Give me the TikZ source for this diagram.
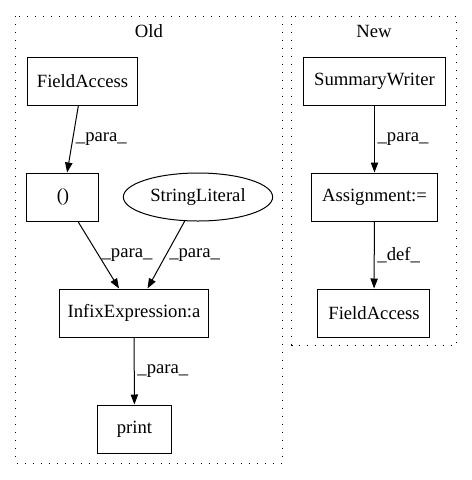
\documentclass[tikz,border=0pt]{standalone}
\usepackage{fontspec}
\setmainfont{Liberation Serif}
\usepackage{tikz}
\usetikzlibrary{shapes.geometric, arrows.meta, positioning}
\tikzstyle{box}     = [rectangle, draw=black, line width=0.75pt, minimum height=36pt,
                       inner sep=0pt, text centered, font=\fontsize{14}{16}\selectfont]
\tikzstyle{oval}    = [ellipse, draw=black, line width=0.75pt, minimum height=36pt,
                       minimum width=112pt, inner sep=0pt, font=\fontsize{14}{16}\selectfont]
\tikzstyle{cluster} = [draw=black, line width=0.75pt, dash pattern=on 1.1pt off 4.9pt]
\tikzstyle{lbl}     = [font=\fontsize{14}{16}\selectfont, inner sep=0pt]
\tikzstyle{elbl}    = [font=\fontsize{14}{16}\selectfont, right, inner sep=2pt]
\tikzstyle{arrow}   = [line width=0.75pt, -{Triangle[length=7.5pt, width=5.5pt]}]

\begin{document}
\begin{tikzpicture}[x=0.75pt, y=-0.75pt]
    \useasboundingbox (0,0) rectangle (472,480);

    % ── Clusters ────────────────────────────────────────────────────────────
    \draw [cluster] (16,16) rectangle (283,463);
    \draw [cluster] (292,16) rectangle (457,345);
    \node (old) [lbl] at (149,31) {Old};
    \node (new) [lbl] at (374,31) {New};

    % ── Old ─────────────────────────────────────────────────────────────────
    \node (fa)     [box, minimum width=83pt]  at (82.5,81)  {FieldAccess};
    \node (paren)  [box, minimum width=54pt]  at (63,197)   {()};
    \node (strlit) [oval]                     at (198,197)  {StringLiteral};
    \node (infix)  [box, minimum width=112pt] at (134,313)  {InfixExpression:a};
    \node (print)  [box, minimum width=55pt]  at (134.5,429) {print};

    % ── New ─────────────────────────────────────────────────────────────────
    \node (sw)     [box, minimum width=107pt] at (374.5,81)  {SummaryWriter};
    \node (assign) [box, minimum width=94pt]  at (374.5,197) {Assignment:=};
    \node (fanew)  [box, minimum width=84pt]  at (374,313)   {FieldAccess};

    % ── Arrows old ──────────────────────────────────────────────────────────
    \draw [arrow] (fa)     -- node[elbl]{\_para\_} (paren);
    \draw [arrow] (paren)  -- node[elbl]{\_para\_} (infix);
    \draw [arrow] (strlit) -- node[elbl]{\_para\_} (infix);
    \draw [arrow] (infix)  -- node[elbl]{\_para\_} (print);

    % ── Arrows new ──────────────────────────────────────────────────────────
    \draw [arrow] (sw)     -- node[elbl]{\_para\_} (assign);
    \draw [arrow] (assign) -- node[elbl]{\_def\_}  (fanew);

\end{tikzpicture}
\end{document}
